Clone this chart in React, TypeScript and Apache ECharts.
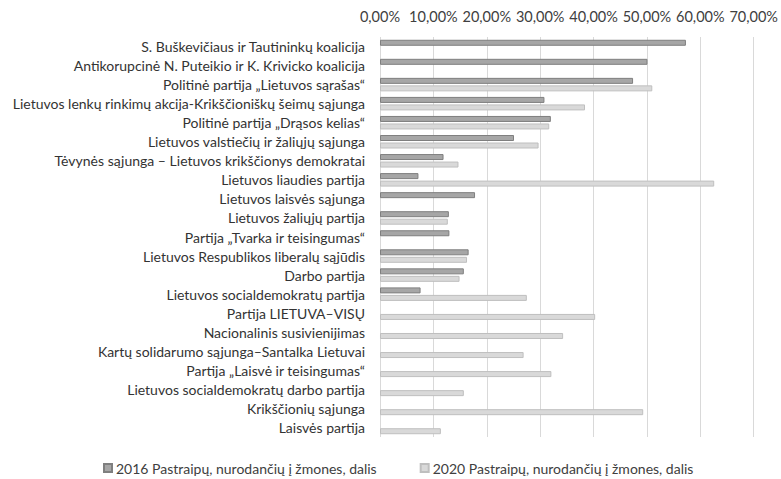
import React, { useEffect, useRef } from "react";
import * as echarts from "echarts";

const categories: string[] = [
  "S. Buškevičiaus ir Tautininkų koalicija",
  "Antikorupcinė N. Puteikio ir K. Krivicko koalicija",
  "Politinė partija „Lietuvos sąrašas“",
  "Lietuvos lenkų rinkimų akcija-Krikščioniškų šeimų sąjunga",
  "Politinė partija „Drąsos kelias“",
  "Lietuvos valstiečių ir žaliųjų sąjunga",
  "Tėvynės sąjunga – Lietuvos krikščionys demokratai",
  "Lietuvos liaudies partija",
  "Lietuvos laisvės sąjunga",
  "Lietuvos žaliųjų partija",
  "Partija „Tvarka ir teisingumas“",
  "Lietuvos Respublikos liberalų sąjūdis",
  "Darbo partija",
  "Lietuvos socialdemokratų partija",
  "Partija LIETUVA–VISŲ",
  "Nacionalinis susivienijimas",
  "Kartų solidarumo sąjunga–Santalka Lietuvai",
  "Partija „Laisvė ir teisingumas“",
  "Lietuvos socialdemokratų darbo partija",
  "Krikščionių sąjunga",
  "Laisvės partija",
];

const series2016Name = "2016 Pastraipų, nurodančių į žmones, dalis";
const series2020Name = "2020 Pastraipų, nurodančių į žmones, dalis";

const values2016: (number | null)[] = [
  57.3, 50.1, 47.4, 30.8, 32.0, 25.1, 11.9, 7.2, 17.8, 12.9, 13.0, 16.6, 15.7, 7.6,
  null, null, null, null, null, null, null,
];

const values2020: (number | null)[] = [
  null, null, 51.0, 38.4, 31.7, 29.7, 14.7, 62.6, null, 12.7, null, 16.3, 14.9, 27.5,
  40.3, 34.3, 26.9, 32.1, 15.7, 49.3, 11.4,
];

const axisMin = 0;
const axisMax = 70;
const axisInterval = 10;

const FONT = "Lato, 'Open Sans', sans-serif";

export default function App() {
  const ref = useRef<HTMLDivElement>(null);

  useEffect(() => {
    if (!ref.current) return;
    const chart = echarts.init(ref.current, undefined, { renderer: "svg" });
    chart.setOption({
      animation: false,
      backgroundColor: "#ffffff",
      textStyle: { fontFamily: FONT },
      grid: { left: 380, right: 25, top: 37, bottom: 42, containLabel: false },
      legend: {
        top: 456,
        left: 98,
        itemWidth: 8,
        itemHeight: 8,
        itemGap: 43,
        icon: "rect",
        textStyle: { fontFamily: FONT, fontSize: 14, color: "#404040", padding: [0, 0, 0, -1] },
        data: [series2016Name, series2020Name],
      },
      xAxis: {
        type: "value",
        position: "top",
        min: axisMin,
        max: axisMax,
        interval: axisInterval,
        axisLine: { show: false },
        axisTick: { show: false },
        splitLine: { show: true, lineStyle: { color: "#d9d9d9", width: 1 } },
        axisLabel: {
          fontFamily: FONT,
          fontSize: 14.5,
          color: "#404040",
          margin: 13,
          formatter: (v: number) => v.toFixed(2).replace(".", ",") + "%",
        },
      },
      yAxis: {
        type: "category",
        inverse: true,
        data: categories,
        axisLine: { show: false },
        axisTick: { show: false },
        axisLabel: {
          fontFamily: FONT,
          fontSize: 14,
          color: "#333333",
          margin: 15,
        },
      },
      series: [
        {
          name: series2016Name,
          type: "bar",
          data: values2016,
          barWidth: 6,
          barGap: "25%",
          itemStyle: { color: "#a6a6a6", borderColor: "#7f7f7f", borderWidth: 1 },
        },
        {
          name: series2020Name,
          type: "bar",
          data: values2020,
          barWidth: 6,
          barGap: "25%",
          itemStyle: { color: "#d9d9d9", borderColor: "#bfbfbf", borderWidth: 1 },
        },
      ],
    });
    return () => chart.dispose();
  }, []);

  return (
    <div
      ref={ref}
      style={{ position: "fixed", left: 0, top: 0, width: 781, height: 479, background: "#fff" }}
    />
  );
}
